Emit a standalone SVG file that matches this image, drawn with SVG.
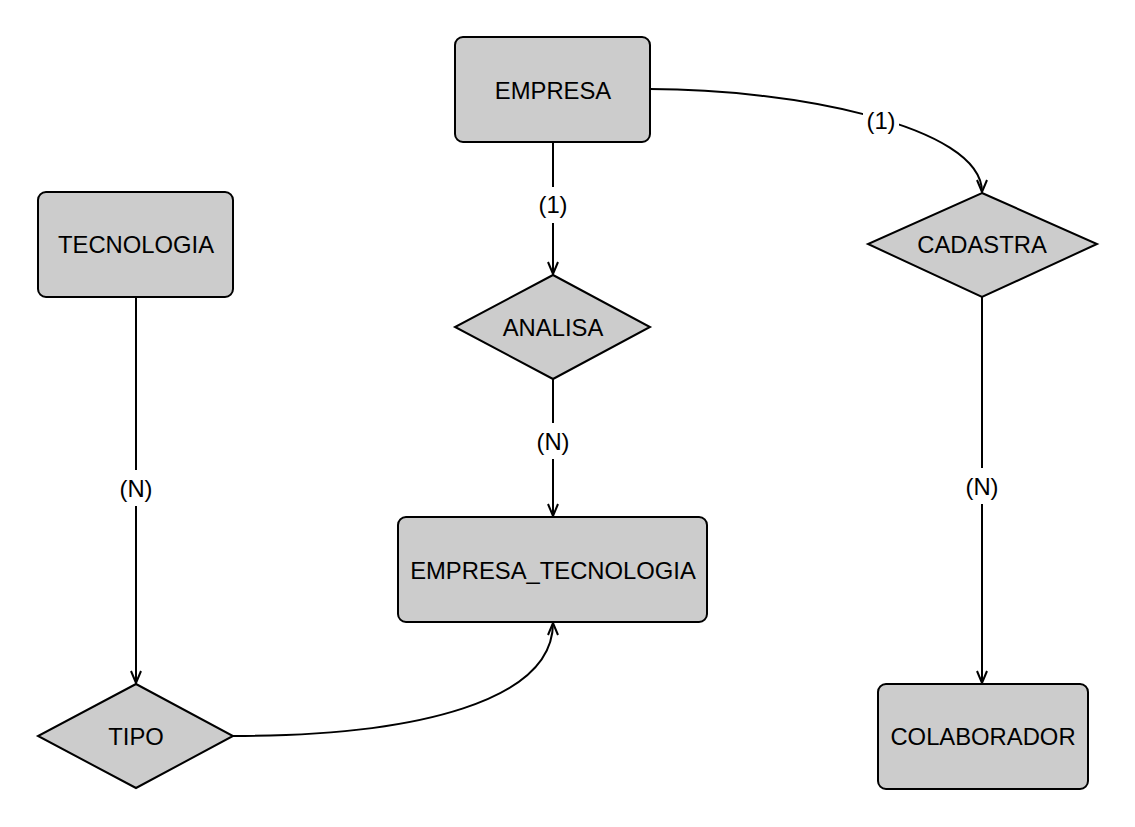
<svg xmlns="http://www.w3.org/2000/svg" width="1135" height="827" viewBox="0 0 1135 827">
<defs>
<style>
.node{fill:#cccccc;stroke:#000;stroke-width:2}
.t{font-family:"Liberation Sans",Arial,Helvetica,sans-serif;font-size:23.8px;fill:#000;text-anchor:middle}
.edge{fill:none;stroke:#000;stroke-width:2;marker-end:url(#arr)}
.lbg{fill:#fff;stroke:none}
</style>
<marker id="arr" viewBox="0 0 14 12" refX="13" refY="6" markerWidth="14" markerHeight="12" markerUnits="userSpaceOnUse" orient="auto">
<path d="M1,1 L13,6 L1,11" fill="none" stroke="#000" stroke-width="2"/>
</marker>
</defs>
<rect width="1135" height="827" fill="#fff"/>
<g id="connectors">
<path class="edge" d="M553,142 L553,274"/>
<path class="edge" d="M553,379 L553,516"/>
<path class="edge" d="M650,89 C790,89 982,125 982,192"/>
<path class="edge" d="M982,297 L982,683"/>
<path class="edge" d="M136,297 L136,683"/>
<path class="edge" d="M233,736 C420,736 553,700 553,623"/>
<rect class="lbg" x="535" y="187" width="36" height="36"/>
<text class="t" x="553" y="213">(1)</text>
<rect class="lbg" x="533" y="423" width="40" height="36"/>
<text class="t" x="553" y="450">(N)</text>
<rect class="lbg" x="863" y="104" width="36" height="34"/>
<text class="t" x="881" y="129">(1)</text>
<rect class="lbg" x="962" y="468" width="40" height="36"/>
<text class="t" x="982" y="495">(N)</text>
<rect class="lbg" x="116" y="470" width="40" height="36"/>
<text class="t" x="136" y="497">(N)</text>
</g>
<g id="EMPRESA">
<rect class="node" x="455" y="37" width="195" height="105" rx="8"/>
<text class="t" x="553" y="99">EMPRESA</text>
</g>
<g id="TECNOLOGIA">
<rect class="node" x="38" y="192" width="195" height="105" rx="8"/>
<text class="t" x="136" y="253">TECNOLOGIA</text>
</g>
<g id="EMPRESA_TECNOLOGIA">
<rect class="node" x="398" y="517" width="309" height="105" rx="8"/>
<text class="t" x="553" y="579">EMPRESA_TECNOLOGIA</text>
</g>
<g id="COLABORADOR">
<rect class="node" x="878" y="684" width="210" height="105" rx="8"/>
<text class="t" x="983" y="745">COLABORADOR</text>
</g>
<g id="ANALISA">
<polygon class="node" points="553,275 650,327 553,379 455,327"/>
<text class="t" x="553" y="336">ANALISA</text>
</g>
<g id="CADASTRA">
<polygon class="node" points="982,193 1097,244 982,297 868,244"/>
<text class="t" x="982" y="253">CADASTRA</text>
</g>
<g id="TIPO">
<polygon class="node" points="136,684 233,736 136,788 38,736"/>
<text class="t" x="136" y="745">TIPO</text>
</g>
</svg>
